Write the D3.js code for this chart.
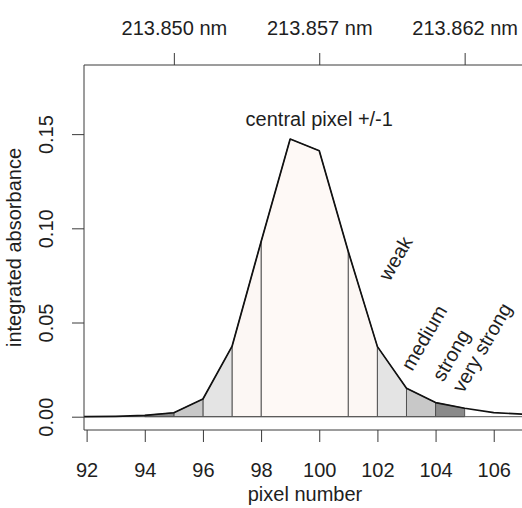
<!DOCTYPE html>
<html>
<head>
<meta charset="utf-8">
<script src="https://cdn.jsdelivr.net/npm/d3@7"></script>
<style>
  body { margin: 0; background: #fff; }
  svg { display: block; }
  text { font-family: "Liberation Sans", Arial, Helvetica, sans-serif; fill: #1e1e1e; }
</style>
</head>
<body>
<svg id="chart" width="522" height="508"></svg>
<script>
// Integrated absorbance per detector pixel
const pixelNumber = [91, 92, 93, 94, 95, 96, 97, 98, 99, 100, 101, 102, 103, 104, 105, 106, 107, 108];
const absorbance  = [0.0000, 0.0000, 0.0002, 0.0007, 0.0021, 0.0094, 0.0373, 0.0929, 0.1474,
                     0.1412, 0.0876, 0.0372, 0.0151, 0.0075, 0.0045, 0.0022, 0.0013, 0.0008];

// Axis ticks
const xTickValues = [92, 94, 96, 98, 100, 102, 104, 106];
const yTickValues = [0, 0.05, 0.10, 0.15];
const yTickLabels = ["0.00", "0.05", "0.10", "0.15"];

// Wavelength scale on the top axis (pixel position -> label)
const wavelengthPixels = [95, 100, 105];
const wavelengthLabels = ["213.850 nm", "213.857 nm", "213.862 nm"];

// Pixel groups used for the evaluation ranges
const bandNames = ["central pixel +/-1", "weak", "medium", "strong", "very strong"];
const bandIntervals = [
  [[98, 101]],
  [[97, 98], [101, 102]],
  [[96, 97], [102, 103]],
  [[95, 96], [103, 104]],
  [[94, 95], [104, 105]]
];

// ---- layout & style ----
const W = 522, H = 508;
const plot = { left: 84, right: 526, top: 65, bottom: 430 };
const bandFill = {
  "central pixel +/-1": "#fef9f6",
  "weak": "#fcf7f4",
  "medium": "#e4e4e4",
  "strong": "#c8c8c8",
  "very strong": "#8a8a8a"
};
const labelPos = {
  "central pixel +/-1": { x: 100, y: 0.1545, rot: 0 },
  "weak":        { x: 102.62, y: 0.0841, rot: -60 },
  "medium":      { x: 103.6,  y: 0.042,  rot: -60 },
  "strong":      { x: 104.53, y: 0.0327, rot: -60 },
  "very strong": { x: 105.59, y: 0.0367, rot: -60 }
};
const fontSize = 20;
const tickLen = 12;

const svg = d3.select("#chart");

const x = d3.scaleLinear().domain([91.91, 107.11]).range([plot.left, plot.right]);
const y = d3.scaleLinear().domain([-0.00706, 0.1867]).range([plot.bottom, plot.top]);

const data = pixelNumber.map((p, i) => ({ p, v: absorbance[i] }));

svg.append("defs").append("clipPath").attr("id", "plotClip")
  .append("rect")
  .attr("x", plot.left).attr("y", plot.top)
  .attr("width", plot.right - plot.left).attr("height", plot.bottom - plot.top);

const inner = svg.append("g").attr("clip-path", "url(#plotClip)");

// shaded pixel bands under the curve
const area = d3.line().x(d => x(d.p)).y(d => y(d.v));
bandNames.forEach((name, bi) => {
  bandIntervals[bi].forEach(([a, b]) => {
    const pts = [{ p: a, v: 0 }]
      .concat(data.filter(d => d.p >= a && d.p <= b))
      .concat([{ p: b, v: 0 }, { p: a, v: 0 }]);
    inner.append("path")
      .attr("d", area(pts))
      .attr("fill", bandFill[name])
      .attr("stroke", "#4a4a4a")
      .attr("stroke-width", 0.9);
  });
});

// zero line
inner.append("line")
  .attr("x1", plot.left).attr("x2", plot.right)
  .attr("y1", y(0)).attr("y2", y(0))
  .attr("stroke", "#555").attr("stroke-width", 1);

// absorbance profile
inner.append("path")
  .datum(data)
  .attr("d", d3.line().x(d => x(d.p)).y(d => y(d.v)))
  .attr("fill", "none")
  .attr("stroke", "#111")
  .attr("stroke-width", 1.7)
  .attr("stroke-linejoin", "round");

// frame
const frame = svg.append("g").attr("stroke", "#3a3a3a").attr("stroke-width", 1).attr("fill", "none");
frame.append("path")
  .attr("d", `M${W + 5},${plot.top}H${plot.left}V${plot.bottom}H${W + 5}`);

// bottom axis
const xAxis = svg.append("g")
  .attr("transform", `translate(0,${plot.bottom})`)
  .call(d3.axisBottom(x).tickValues(xTickValues).tickSize(tickLen).tickSizeOuter(0).tickFormat(d3.format("d")));
xAxis.select(".domain").remove();
xAxis.selectAll(".tick line").attr("stroke", "#3a3a3a");
xAxis.selectAll(".tick text")
  .attr("y", 46.7).attr("dy", null)
  .attr("font-size", fontSize).attr("fill", "#1e1e1e")
  .attr("font-family", "Liberation Sans, Arial, sans-serif");

// left axis
const yAxis = svg.append("g")
  .attr("transform", `translate(${plot.left},0)`)
  .call(d3.axisLeft(y).tickValues(yTickValues).tickSize(tickLen).tickSizeOuter(0)
    .tickFormat((d, i) => yTickLabels[i]));
yAxis.select(".domain").remove();
yAxis.selectAll(".tick line").attr("stroke", "#3a3a3a");
yAxis.selectAll(".tick text")
  .attr("x", null).attr("dy", null)
  .attr("transform", `translate(${53 - plot.left},0) rotate(-90)`)
  .attr("text-anchor", "middle")
  .attr("font-size", fontSize).attr("fill", "#1e1e1e")
  .attr("font-family", "Liberation Sans, Arial, sans-serif");

// top axis: wavelength
const topAxis = svg.append("g")
  .attr("transform", `translate(0,${plot.top})`)
  .call(d3.axisTop(x).tickValues(wavelengthPixels).tickSize(tickLen).tickSizeOuter(0)
    .tickFormat((d, i) => wavelengthLabels[i]));
topAxis.select(".domain").remove();
topAxis.selectAll(".tick line").attr("stroke", "#3a3a3a");
topAxis.selectAll(".tick text")
  .attr("y", 35 - plot.top).attr("dy", null)
  .attr("font-size", fontSize).attr("fill", "#1e1e1e")
  .attr("font-family", "Liberation Sans, Arial, sans-serif");

// axis titles
svg.append("text")
  .attr("x", (plot.left + plot.right) / 2).attr("y", 501)
  .attr("text-anchor", "middle").attr("font-size", fontSize)
  .text("pixel number");

svg.append("text")
  .attr("transform", `translate(21,${(plot.top + plot.bottom) / 2}) rotate(-90)`)
  .attr("text-anchor", "middle").attr("font-size", fontSize)
  .text("integrated absorbance");

// band annotations
bandNames.forEach(name => {
  const lp = labelPos[name];
  const t = svg.append("text")
    .attr("transform", `translate(${x(lp.x)},${y(lp.y)}) rotate(${lp.rot})`)
    .attr("text-anchor", "middle").attr("font-size", fontSize)
    .text(name);
  if (lp.rot !== 0) t.attr("dy", "0.35em");
});
</script>
</body>
</html>
